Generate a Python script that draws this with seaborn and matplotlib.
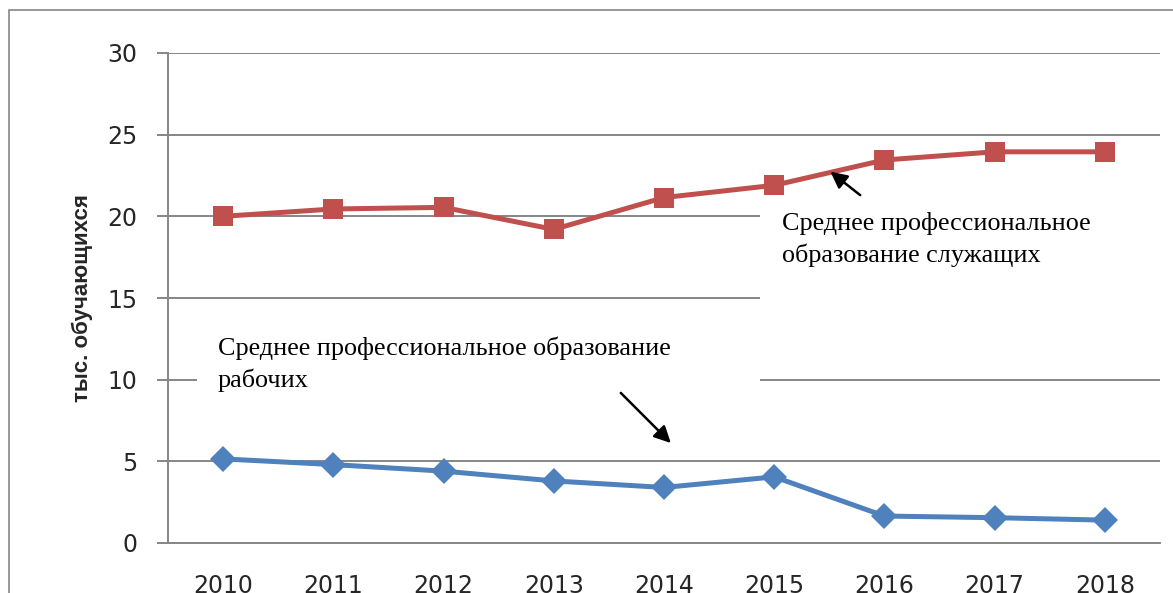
import matplotlib
matplotlib.use("Agg")
import matplotlib.pyplot as plt
from matplotlib.patches import Rectangle
import pandas as pd
import seaborn as sns

years = [2010, 2011, 2012, 2013, 2014, 2015, 2016, 2017, 2018]
sluzhashchih = [20.0, 20.45, 20.55, 19.2, 21.15, 21.9, 23.45, 23.95, 23.95]
rabochih = [5.15, 4.8, 4.4, 3.8, 3.4, 4.05, 1.65, 1.55, 1.4]
y_ticks = [0, 5, 10, 15, 20, 25, 30]

label_sl = "Среднее профессиональное\nобразование служащих"
label_rab = "Среднее профессиональное образование\nрабочих"

df = pd.DataFrame({
    "year": years * 2,
    "value": sluzhashchih + rabochih,
    "series": ["sl"] * len(years) + ["rab"] * len(years),
})

sns.set_style("white")
plt.rcParams['font.family'] = ['DejaVu Sans']

grid_c = "#868686"
fig = plt.figure(figsize=(11.73, 5.93), dpi=100)
ax = fig.add_axes([168 / 1173, 50 / 593, 992 / 1173, 490 / 593])

# outer chart frame (cut off at right / bottom in the source)
fig.patches.append(Rectangle((9 / 1173, -0.1), 1.2, 0.1 + 583 / 593,
                             transform=fig.transFigure, fill=False,
                             edgecolor=grid_c, linewidth=1.2))

sns.lineplot(data=df, x="year", y="value", hue="series", style="series",
             palette={"sl": "#C0504D", "rab": "#4F81BD"},
             markers={"sl": "s", "rab": "D"}, dashes=False,
             linewidth=3.6, markersize=15, markeredgewidth=0,
             legend=False, ax=ax, zorder=3)
for ln in ax.lines:
    if ln.get_marker() == "D":
        ln.set_markersize(13)

ax.set_xlim(2009.5, 2018.5)
ax.set_ylim(0, 30)
ax.set_yticks(y_ticks)
ax.set_xticks(years)
ax.set_xticks([y - 0.5 for y in years] + [2018.5], minor=True)
ax.tick_params(axis="x", which="major", length=0, pad=22, labelsize=17)
ax.tick_params(axis="x", which="minor", length=7, width=1.4, color=grid_c, direction="out")
ax.tick_params(axis="y", length=8, width=1.4, color=grid_c, pad=14, labelsize=17)
ax.tick_params(left=True)
ax.yaxis.grid(True, color=grid_c, linewidth=1.4)
ax.set_axisbelow(True)
for s in ["top", "right"]:
    ax.spines[s].set_visible(False)
for s in ["left", "bottom"]:
    ax.spines[s].set_color(grid_c)
    ax.spines[s].set_linewidth(1.4)

ax.set_xlabel("")
ax.set_ylabel("тыс. обучающихся", fontsize=16, fontweight="bold",
              family="Liberation Sans")
ax.yaxis.set_label_coords(-75 / 992, 0.5)

# white text boxes covering the gridlines
ax.add_patch(Rectangle((2014.87, 12.4), 3.63, 8.6, facecolor="white",
                       edgecolor="none", zorder=1.5))
ax.add_patch(Rectangle((2009.76, 8.8), 5.11, 4.6, facecolor="white",
                       edgecolor="none", zorder=1.5))

serif = dict(family="Liberation Serif", fontsize=18.8, color="black",
             va="top", ha="left", linespacing=1.45, zorder=4)
ax.text(2015.07, 20.25, label_sl, **serif)
ax.text(2009.95, 12.62, label_rab, **serif)

ax.annotate("", xy=(2015.49, 22.84), xytext=(2015.8, 21.19),
            arrowprops=dict(arrowstyle="-|>", color="black", lw=1.8,
                            mutation_scale=25), zorder=5)
ax.annotate("", xy=(2014.08, 6.0), xytext=(2013.59, 9.31),
            arrowprops=dict(arrowstyle="-|>", color="black", lw=1.8,
                            mutation_scale=25), zorder=5)

fig.savefig("out.png", dpi=100)
